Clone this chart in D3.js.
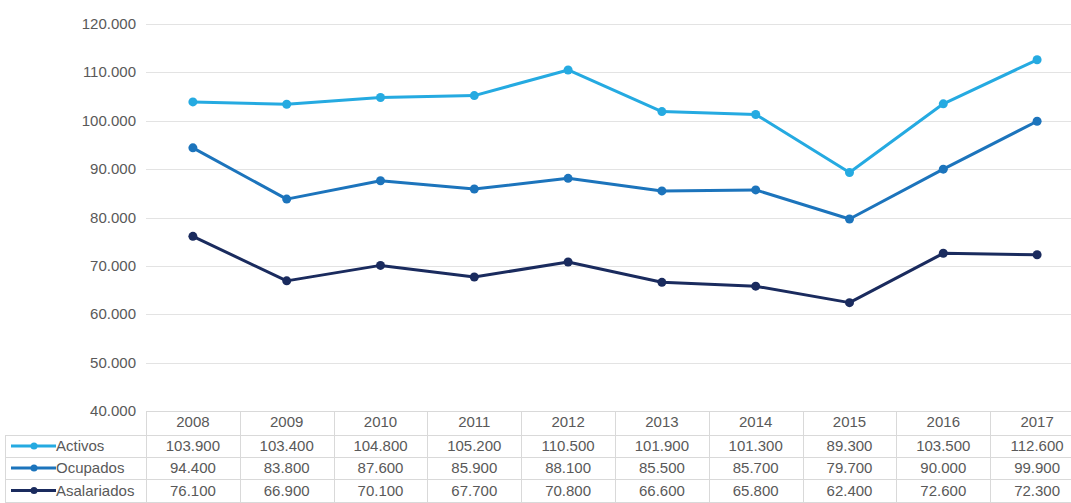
<!DOCTYPE html>
<html>
<head>
<meta charset="utf-8">
<script src="https://cdn.jsdelivr.net/npm/d3@7"></script>
<style>
  body { margin: 0; background: #fff; overflow: hidden; }
  svg { display: block; font-family: "Liberation Sans", Arial, sans-serif; }
</style>
</head>
<body>
<svg width="1071" height="503"></svg>
<script>
// chart data
var years = ["2008", "2009", "2010", "2011", "2012", "2013", "2014", "2015", "2016", "2017"];
var activos = [103900, 103400, 104800, 105200, 110500, 101900, 101300, 89300, 103500, 112600];
var ocupados = [94400, 83800, 87600, 85900, 88100, 85500, 85700, 79700, 90000, 99900];
var asalariados = [76100, 66900, 70100, 67700, 70800, 66600, 65800, 62400, 72600, 72300];
var seriesNames = ["Activos", "Ocupados", "Asalariados"];
var yTicks = [40000, 50000, 60000, 70000, 80000, 90000, 100000, 110000, 120000];

(function() {
var series = [
    { name: seriesNames[0], values: activos, color: "#25aae1" },
    { name: seriesNames[1], values: ocupados, color: "#1c74bc" },
    { name: seriesNames[2], values: asalariados, color: "#1a2b5e" }
];

var svg = d3.select("svg");
var plotLeft = 146, plotRight = 1084, plotTop = 24, plotBottom = 411;
var fmt = function(v) { return d3.format(",")(v).replace(/,/g, "."); };
var fontSize = "15px", textColor = "#595959";

var x = d3.scaleBand().domain(years).range([plotLeft, plotRight]);
var y = d3.scaleLinear().domain([40000, 120000]).range([plotBottom, plotTop]);

// gridlines
svg.append("g").selectAll("line")
    .data(yTicks).enter().append("line")
    .attr("x1", plotLeft).attr("x2", plotRight)
    .attr("y1", function(d) { return Math.round(y(d)) + 0.5; })
    .attr("y2", function(d) { return Math.round(y(d)) + 0.5; })
    .style("stroke", "#e3e3e3")
    .style("stroke-width", 1);

// y labels
svg.append("g").selectAll("text")
    .data(yTicks).enter().append("text")
    .attr("x", 136)
    .attr("y", function(d) { return y(d) + 5; })
    .attr("text-anchor", "end")
    .attr("font-size", fontSize)
    .attr("fill", textColor)
    .text(fmt);

// data table
var rowTop = 411, rowH = [24, 22, 22, 23];
var rowY = [rowTop];
rowH.forEach(function(h, i) { rowY.push(rowY[i] + h); });
var grid = svg.append("g").style("stroke", "#d9d9d9").style("stroke-width", 1);
rowY.forEach(function(yy, i) {
    grid.append("line")
        .attr("x1", i === 0 ? plotLeft : 5).attr("x2", plotRight)
        .attr("y1", yy + 0.5).attr("y2", yy + 0.5);
});
years.forEach(function(d) {
    grid.append("line")
        .attr("x1", Math.round(x(d)) + 0.5).attr("x2", Math.round(x(d)) + 0.5)
        .attr("y1", rowTop).attr("y2", 503);
});
grid.append("line")
    .attr("x1", 5.5).attr("x2", 5.5)
    .attr("y1", rowY[1]).attr("y2", 503);

var tbl = svg.append("g").attr("font-size", fontSize).attr("fill", textColor).attr("text-anchor", "middle");
tbl.selectAll("text.yr").data(years).enter().append("text")
    .attr("class", "yr")
    .attr("x", function(d) { return x(d) + x.bandwidth() / 2; })
    .attr("y", rowY[0] + 16)
    .text(function(d) { return d; });

series.forEach(function(s, r) {
    var cy = rowY[r + 1] + rowH[r + 1] / 2;
    tbl.selectAll("text.v" + r).data(s.values).enter().append("text")
        .attr("class", "v" + r)
        .attr("x", function(d, i) { return x(years[i]) + x.bandwidth() / 2; })
        .attr("y", cy + 5)
        .text(fmt);
    // legend key
    svg.append("line")
        .attr("x1", 11).attr("x2", 56)
        .attr("y1", cy).attr("y2", cy)
        .style("stroke", s.color).style("stroke-width", 3);
    svg.append("circle")
        .attr("cx", 34).attr("cy", cy).attr("r", 3.5)
        .style("fill", s.color);
    svg.append("text")
        .attr("x", 56).attr("y", cy + 5)
        .attr("font-size", fontSize).attr("fill", textColor)
        .text(s.name);
});

// lines
var line = d3.line()
    .x(function(d, i) { return x(years[i]) + x.bandwidth() / 2; })
    .y(function(d) { return y(d); });

series.forEach(function(s) {
    var g = svg.append("g");
    g.append("path")
        .datum(s.values)
        .attr("d", line)
        .style("fill", "none")
        .style("stroke", s.color)
        .style("stroke-width", 3)
        .style("stroke-linejoin", "round");
    g.selectAll("circle").data(s.values).enter().append("circle")
        .attr("cx", function(d, i) { return x(years[i]) + x.bandwidth() / 2; })
        .attr("cy", function(d) { return y(d); })
        .attr("r", 4.5)
        .style("fill", s.color);
});
})();
</script>
</body>
</html>
